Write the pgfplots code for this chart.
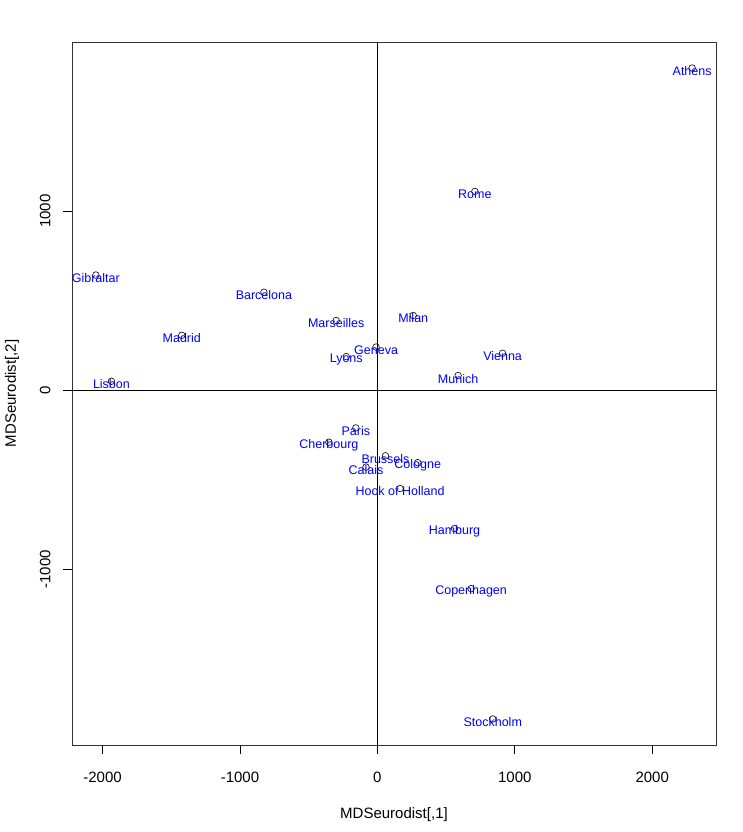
\documentclass[border=0pt]{standalone}
\usepackage{pgfplots}
\pgfplotsset{compat=1.18}
\usepackage{pgfplotstable}
\usepackage{fontspec}
\setmainfont{Liberation Sans}
\pgfplotstableread[col sep=comma]{
x,y,label
2290.27,1798.80,Athens
-825.38,546.81,Barcelona
59.18,-367.08,Brussels
-82.85,-429.91,Calais
-352.50,-290.91,Cherbourg
293.69,-405.31,Cologne
681.93,-1108.64,Copenhagen
-9.42,240.41,Geneva
-2048.45,642.46,Gibraltar
561.11,-773.37,Hamburg
164.92,-549.37,Hook of Holland
-1935.04,49.13,Lisbon
-226.42,187.09,Lyons
-1423.35,305.88,Madrid
-299.50,388.81,Marseilles
260.88,416.67,Milan
587.68,81.18,Munich
-156.84,-211.14,Paris
709.41,1109.37,Rome
839.45,-1836.79,Stockholm
911.23,205.93,Vienna
}\cities
\begin{document}
\begin{tikzpicture}
\useasboundingbox (-72bp,-87bp) rectangle (671bp,745bp);
\begin{axis}[
  scale only axis,
  width=644bp, height=703bp,
  xmin=-2222, xmax=2464, ymin=-1982, ymax=1944,
  axis line style={black!80, line width=0.9bp},
  xtick={-2000,-1000,0,1000,2000},
  ytick={-1000,0,1000},
  tick align=outside,
  major tick length=9bp,
  tick style={black, line width=0.8bp},
  xtick pos=bottom, ytick pos=left,
  /pgf/number format/assume math mode=true,
  /pgf/number format/set thousands separator={},
  ticklabel style={font=\fontsize{15bp}{18bp}\selectfont},
  xticklabel style={yshift=-15bp},
  yticklabel style={rotate=90, anchor=south, xshift=0bp, yshift=9bp},
  xlabel={MDSeurodist[,1]},
  ylabel={MDSeurodist[,2]},
  label style={font=\fontsize{15bp}{18bp}\selectfont},
  xlabel style={at={(axis description cs:0.5,-0.0985)}, anchor=center},
  ylabel style={at={(axis description cs:-0.0932,0.5)}, anchor=center},
  clip=false,
]
\addplot[black, line width=0.8bp] coordinates {(-2222,0) (2464,0)};
\addplot[black, line width=0.8bp] coordinates {(0,-1982) (0,1944)};
\addplot[only marks, mark=o, mark size=3.3bp, black, mark options={line width=0.6bp},
  nodes near coords, point meta=explicit symbolic,
  nodes near coords style={anchor=center, text=blue, inner sep=0pt, yshift=-3bp,
    font=\fontsize{12.5bp}{15bp}\selectfont}]
  table[x=x, y=y, meta=label]{\cities};
\end{axis}
\end{tikzpicture}
\end{document}
